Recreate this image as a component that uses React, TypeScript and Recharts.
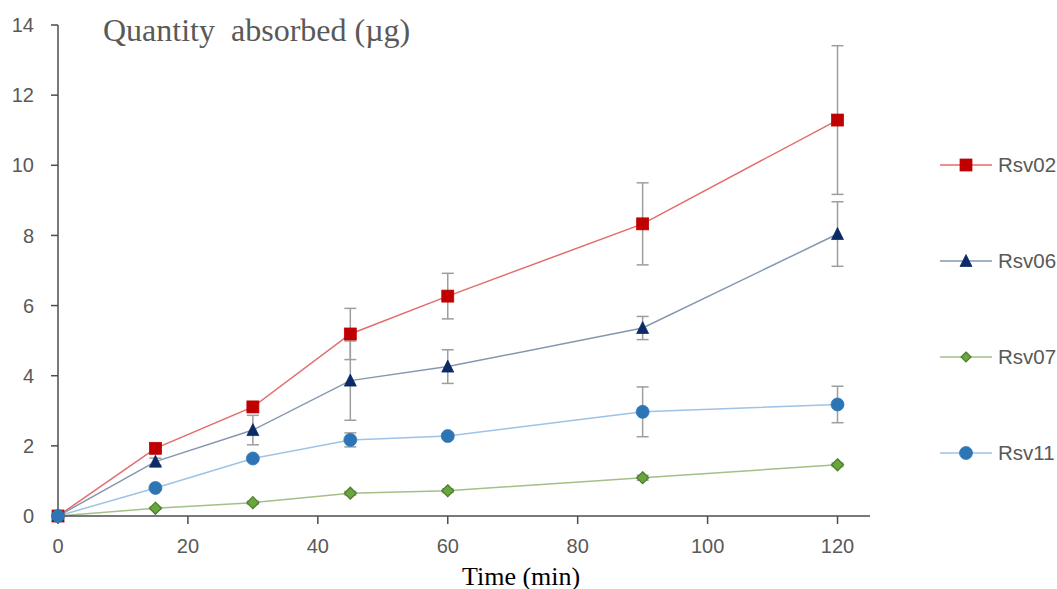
import { LineChart, Line, XAxis, YAxis, ErrorBar } from "recharts";

// sampling times (min)
const times = [0, 15, 30, 45, 60, 90, 120];

// quantity absorbed (µg)
const rsv02 = [0, 1.93, 3.11, 5.19, 6.27, 8.33, 11.29];
const rsv06 = [0, 1.55, 2.45, 3.86, 4.26, 5.36, 8.04];
const rsv07 = [0, 0.22, 0.38, 0.65, 0.72, 1.09, 1.46];
const rsv11 = [0, 0.8, 1.64, 2.17, 2.28, 2.97, 3.18];

// error bars (± value)
const rsv02Err = [0, 0.12, 0.15, 0.73, 0.65, 1.17, 2.12];
const rsv06Err = [0, 0.1, 0.42, 1.13, 0.48, 0.33, 0.92];
const rsv07Err = [0, 0.03, 0.04, 0.05, 0.05, 0.07, 0.05];
const rsv11Err = [0, 0.05, 0.06, 0.2, 0.08, 0.71, 0.52];

const xTicks = [0, 20, 40, 60, 80, 100, 120];
const yTicks = [0, 2, 4, 6, 8, 10, 12, 14];

const data = times.map((t, i) => ({
  t,
  rsv02: rsv02[i],
  rsv06: rsv06[i],
  rsv07: rsv07[i],
  rsv11: rsv11[i],
  rsv02Err: rsv02Err[i],
  rsv06Err: rsv06Err[i],
  rsv07Err: rsv07Err[i],
  rsv11Err: rsv11Err[i],
}));

type Shape = "square" | "triangle" | "diamond" | "circle";

const series: { key: string; name: string; line: string; fill: string; stroke: string; shape: Shape }[] = [
  { key: "rsv02", name: "Rsv02", line: "#E36C6C", fill: "#C00000", stroke: "#C00000", shape: "square" },
  { key: "rsv06", name: "Rsv06", line: "#8497B0", fill: "#0B2A66", stroke: "#0B2A66", shape: "triangle" },
  { key: "rsv07", name: "Rsv07", line: "#A2C088", fill: "#6AA63F", stroke: "#4A7D2A", shape: "diamond" },
  { key: "rsv11", name: "Rsv11", line: "#9DC3E6", fill: "#2E75B6", stroke: "#2E75B6", shape: "circle" },
];

function Marker({ shape, cx, cy, fill, stroke, s = 6 }: { shape: Shape; cx: number; cy: number; fill: string; stroke: string; s?: number }) {
  if (shape === "square") {
    return <rect x={cx - s} y={cy - s} width={s * 2} height={s * 2} fill={fill} stroke={stroke} strokeWidth={0.75} />;
  }
  if (shape === "triangle") {
    return (
      <polygon
        points={`${cx},${cy - s - 0.5} ${cx + s},${cy + s - 0.5} ${cx - s},${cy + s - 0.5}`}
        fill={fill}
        stroke={stroke}
        strokeWidth={0.75}
      />
    );
  }
  if (shape === "diamond") {
    return (
      <polygon
        points={`${cx},${cy - s} ${cx + s},${cy} ${cx},${cy + s} ${cx - s},${cy}`}
        fill={fill}
        stroke={stroke}
        strokeWidth={1.2}
      />
    );
  }
  return <circle cx={cx} cy={cy} r={s + 0.5} fill={fill} stroke={stroke} strokeWidth={0.75} />;
}

const sans = "'Liberation Sans', Arial, sans-serif";
const serif = "'Liberation Serif', 'Times New Roman', serif";

function LegendBox() {
  return (
    <svg width={122} height={340} style={{ position: "absolute", left: 935, top: 140 }}>
      {series.map((s, i) => {
        const y = 25 + i * 96;
        return (
          <g key={s.key}>
            <line x1={5} x2={57} y1={y} y2={y} stroke={s.line} strokeWidth={1.5} />
            <Marker shape={s.shape} cx={31} cy={y} fill={s.fill} stroke={s.stroke} s={s.shape === "diamond" ? 5 : 6} />
            <text x={63} y={y} dy="0.36em" fontFamily={sans} fontSize={20.5} fill="#595959">
              {s.name}
            </text>
          </g>
        );
      })}
    </svg>
  );
}

export default function App() {
  return (
    <div style={{ position: "absolute", left: 0, top: 0, width: 1057, height: 589, background: "#fff" }}>
      <LineChart
        width={1057}
        height={589}
        data={data}
        margin={{ top: 25, right: 187, bottom: 0, left: 0 }}
      >
        <XAxis
          dataKey="t"
          type="number"
          domain={[0, 125]}
          ticks={xTicks}
          interval={0}
          height={73}
          axisLine={{ stroke: "#4D4D4D", strokeWidth: 1.5 }}
          tickLine={{ stroke: "#4D4D4D", strokeWidth: 1.5 }}
          tickSize={8}
          tickMargin={15}
          tick={{ fill: "#595959", fontSize: 20, fontFamily: sans }}
        />
        <YAxis
          type="number"
          domain={[0, 14]}
          ticks={yTicks}
          interval={0}
          width={58}
          axisLine={{ stroke: "#4D4D4D", strokeWidth: 1.5 }}
          tickLine={{ stroke: "#4D4D4D", strokeWidth: 1.5 }}
          tickSize={7}
          tickMargin={17}
          tick={{ fill: "#595959", fontSize: 20, fontFamily: sans }}
        />
        {series.map((s) => (
          <Line
            key={s.key}
            dataKey={s.key}
            name={s.name}
            stroke={s.line}
            strokeWidth={1.5}
            isAnimationActive={false}
            activeDot={false}
            dot={(p: any) => (
              <Marker key={`${s.key}-${p.index}`} shape={s.shape} cx={p.cx} cy={p.cy} fill={s.fill} stroke={s.stroke} />
            )}
          >
            <ErrorBar dataKey={`${s.key}Err`} direction="y" width={6} stroke="#9E9E9E" strokeWidth={1.5} />
          </Line>
        ))}
      </LineChart>
      <LegendBox />
      <div
        style={{
          position: "absolute",
          left: 103,
          top: 14,
          fontFamily: serif,
          fontSize: 32,
          lineHeight: 1,
          color: "#595959",
          whiteSpace: "pre",
        }}
      >
        {"Quantity  absorbed (µg)"}
      </div>
      <div
        style={{
          position: "absolute",
          left: 462,
          top: 564,
          fontFamily: serif,
          fontSize: 26,
          lineHeight: 1,
          color: "#000",
          whiteSpace: "pre",
        }}
      >
        Time (min)
      </div>
    </div>
  );
}
